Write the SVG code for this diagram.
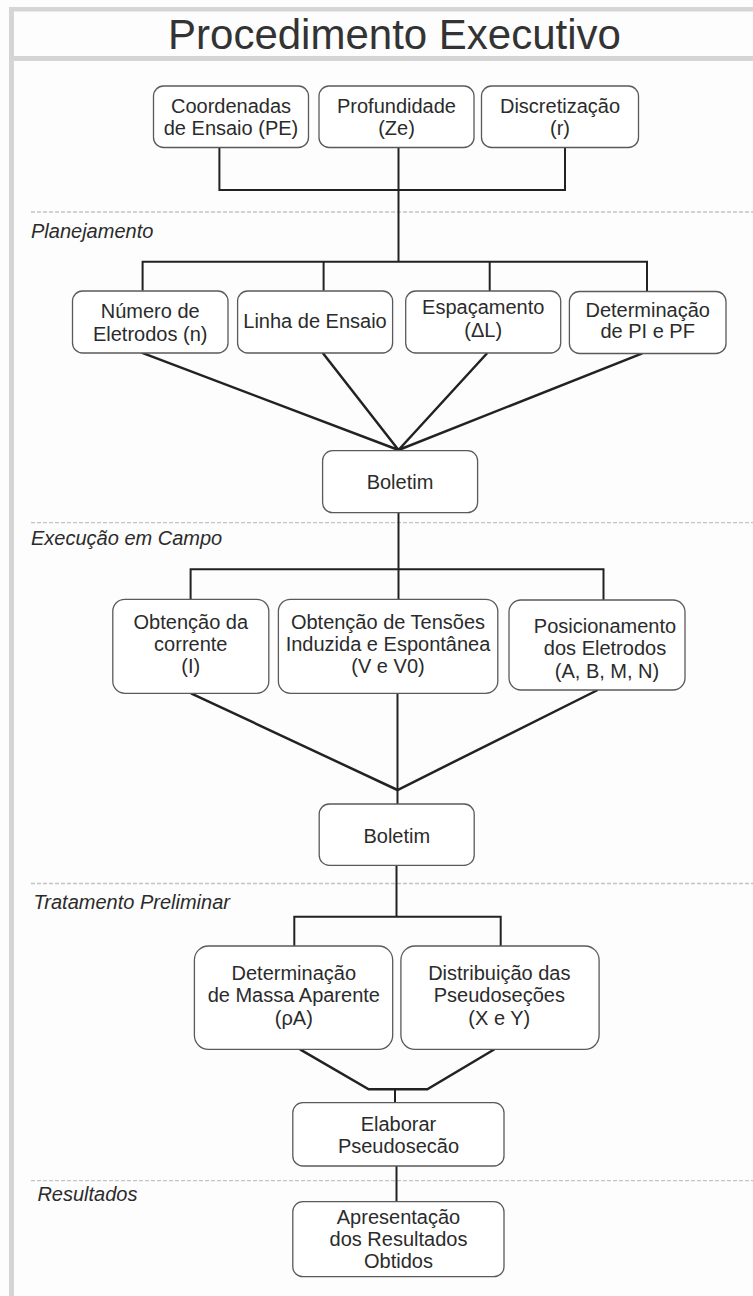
<svg xmlns="http://www.w3.org/2000/svg" width="753" height="1296" viewBox="0 0 753 1296">
<style>
.frame{fill:#d5d5d5}
.box{fill:#ffffff;stroke:#5a5a5a;stroke-width:1.3}
.t{font-family:"Liberation Sans",Arial,sans-serif;font-size:20px;fill:#2b2b2b;text-anchor:middle}
.sec{font-family:"Liberation Sans",Arial,sans-serif;font-size:20px;font-style:italic;fill:#2b2b2b}
.title{font-family:"Liberation Sans",Arial,sans-serif;font-size:42px;fill:#333333;text-anchor:middle}
.c{fill:none;stroke:#222222;stroke-width:2}
.d{fill:none;stroke:#222222;stroke-width:2.5}
.dash{stroke:#c4c4c4;stroke-width:1.3;stroke-dasharray:4 2}
</style>
<rect x="0" y="0" width="753" height="1296" fill="#fdfdfd"/>
<g id="frame">
<rect class="frame" x="9" y="7" width="744" height="4.5"/>
<rect class="frame" x="9" y="56" width="744" height="5"/>
<rect class="frame" x="9" y="7" width="5" height="1289"/>
<text class="title" x="394.5" y="49">Procedimento Executivo</text>
</g>
<g id="separators">
<line class="dash" x1="31" y1="212" x2="753" y2="212"/>
<line class="dash" x1="31" y1="522.7" x2="753" y2="522.7"/>
<line class="dash" x1="31" y1="883.5" x2="753" y2="883.5"/>
<line class="dash" x1="31" y1="1180.7" x2="753" y2="1180.7"/>
<text class="sec" x="31" y="238.3">Planejamento</text>
<text class="sec" x="31" y="545">Execução em Campo</text>
<text class="sec" x="33.6" y="909.3">Tratamento Preliminar</text>
<text class="sec" x="37.4" y="1200.7">Resultados</text>
</g>
<g id="connectors">
<path class="c" d="M219.4 147.5 V190 H565 V147.5"/>
<path class="c" d="M398.5 147.5 V261.7"/>
<path class="c" d="M142.6 290.7 V261.7 H647 V291.7"/>
<path class="c" d="M323.6 261.7 V290.7"/>
<path class="c" d="M489.7 261.7 V291.7"/>
<path class="d" d="M141.6 352.7 L398.5 450 M322.6 352.7 L398.5 450 M487.3 353 L398.5 450 M642.3 353.3 L398.5 450"/>
<path class="c" d="M398.5 512.7 V599.3"/>
<path class="c" d="M190.6 599.3 V569.3 H603.5 V600"/>
<path class="d" d="M191 693.3 L397.5 790 L597.7 690"/>
<path class="c" d="M397.5 693.3 V804"/>
<path class="c" d="M396.5 865.3 V916.7"/>
<path class="c" d="M294.3 946 V916.7 H500.7 V946"/>
<path class="d" d="M300 1049.3 L368.7 1089.3 H427.3 L494.5 1049.3"/>
<path class="c" d="M395 1089.3 V1102.7"/>
<path class="c" d="M396.5 1166 V1201.7"/>
</g>
<g id="n-coordenadas">
<rect class="box" x="153.5" y="86" width="155" height="61.5" rx="10"/>
<text class="t" x="231" y="113.3">Coordenadas</text>
<text class="t" x="231" y="135">de Ensaio (PE)</text>
</g>
<g id="n-profundidade">
<rect class="box" x="319" y="86" width="155" height="61.5" rx="10"/>
<text class="t" x="396.5" y="113.3">Profundidade</text>
<text class="t" x="396.5" y="135">(Ze)</text>
</g>
<g id="n-discretizacao">
<rect class="box" x="481.5" y="86" width="157" height="61.5" rx="10"/>
<text class="t" x="560" y="113.3">Discretização</text>
<text class="t" x="560" y="135">(r)</text>
</g>
<g id="n-numero">
<rect class="box" x="72.5" y="291" width="155.5" height="62" rx="10"/>
<text class="t" x="150.2" y="318.3">Número de</text>
<text class="t" x="150.2" y="340.7">Eletrodos (n)</text>
</g>
<g id="n-linha">
<rect class="box" x="237.6" y="291" width="155" height="62" rx="10"/>
<text class="t" x="315" y="328.3">Linha de Ensaio</text>
</g>
<g id="n-espacamento">
<rect class="box" x="405.7" y="291" width="155" height="62" rx="10"/>
<text class="t" x="483.2" y="314.3">Espaçamento</text>
<text class="t" x="483.2" y="336.7">(ΔL)</text>
</g>
<g id="n-pipf">
<rect class="box" x="569.4" y="291.5" width="156.6" height="62" rx="10"/>
<text class="t" x="647.7" y="316.7">Determinação</text>
<text class="t" x="647.7" y="338.3">de PI e PF</text>
</g>
<g id="n-boletim1">
<rect class="box" x="322.6" y="450.7" width="155" height="62" rx="10"/>
<text class="t" x="400" y="489">Boletim</text>
</g>
<g id="n-corrente">
<rect class="box" x="112.8" y="599.3" width="156" height="94" rx="12"/>
<text class="t" x="190.8" y="629">Obtenção da</text>
<text class="t" x="190.8" y="650.7">corrente</text>
<text class="t" x="190.8" y="673.3">(I)</text>
</g>
<g id="n-tensoes">
<rect class="box" x="278.4" y="599.3" width="219.4" height="94" rx="12"/>
<text class="t" x="388" y="629">Obtenção de Tensões</text>
<text class="t" x="388" y="650.7">Induzida e Espontânea</text>
<text class="t" x="388" y="673.3">(V e V0)</text>
</g>
<g id="n-posicionamento">
<rect class="box" x="509" y="600" width="176" height="90" rx="12"/>
<text class="t" x="605" y="633.3">Posicionamento</text>
<text class="t" x="605" y="655">dos Eletrodos</text>
<text class="t" x="607" y="677.7">(A, B, M, N)</text>
</g>
<g id="n-boletim2">
<rect class="box" x="319.2" y="804" width="155" height="61.3" rx="10"/>
<text class="t" x="396.8" y="842.7">Boletim</text>
</g>
<g id="n-massa">
<rect class="box" x="194.4" y="946" width="198.3" height="103.3" rx="14"/>
<text class="t" x="293.8" y="980">Determinação</text>
<text class="t" x="293.8" y="1002.3">de Massa Aparente</text>
<text class="t" x="293.8" y="1025">(ρA)</text>
</g>
<g id="n-distribuicao">
<rect class="box" x="400.9" y="946" width="198.2" height="103.3" rx="14"/>
<text class="t" x="499.3" y="980">Distribuição das</text>
<text class="t" x="499.3" y="1002.3">Pseudoseções</text>
<text class="t" x="499.3" y="1025">(X e Y)</text>
</g>
<g id="n-elaborar">
<rect class="box" x="292.8" y="1102.7" width="211.2" height="63.3" rx="10"/>
<text class="t" x="398.5" y="1130.7">Elaborar</text>
<text class="t" x="398.5" y="1152.7">Pseudosecão</text>
</g>
<g id="n-apresentacao">
<rect class="box" x="292.8" y="1201.7" width="211.2" height="75" rx="10"/>
<text class="t" x="398.5" y="1224">Apresentação</text>
<text class="t" x="398.5" y="1245.7">dos Resultados</text>
<text class="t" x="398.5" y="1268.3">Obtidos</text>
</g>
</svg>
